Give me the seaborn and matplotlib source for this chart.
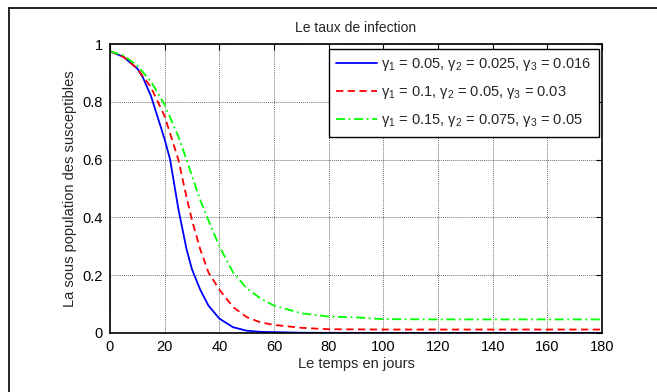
import matplotlib
matplotlib.use("Agg")
import matplotlib.pyplot as plt
import seaborn as sns
import pandas as pd
from matplotlib.lines import Line2D

sns.set_theme(style="white")
plt.rcParams['font.family'] = ['Liberation Sans', 'DejaVu Sans']
plt.rcParams['mathtext.default'] = 'regular'

# data
t_blue = [0, 5, 10, 12, 15, 20, 22, 25, 28, 30, 33, 36, 40, 45, 50, 55, 60, 70, 80, 100, 120, 140, 160, 180]
s_blue = [0.975, 0.955, 0.915, 0.885, 0.82, 0.67, 0.60, 0.43, 0.29, 0.22, 0.15, 0.095, 0.05, 0.02, 0.008,
          0.004, 0.003, 0.001, 0.0005, 0.0005, 0.0005, 0.0005, 0.0005, 0.0005]

t_red = [0, 5, 10, 15, 20, 25, 28, 30, 33, 36, 40, 45, 50, 55, 60, 70, 80, 100, 120, 140, 160, 180]
s_red = [0.975, 0.955, 0.915, 0.85, 0.75, 0.60, 0.47, 0.39, 0.29, 0.21, 0.15, 0.09, 0.055, 0.037,
         0.028, 0.018, 0.013, 0.012, 0.012, 0.012, 0.012, 0.012]

t_green = [0, 5, 10, 15, 20, 25, 28, 33, 36, 40, 45, 50, 55, 60, 70, 80, 90, 100, 120, 140, 160, 180]
s_green = [0.975, 0.96, 0.925, 0.87, 0.79, 0.68, 0.60, 0.46, 0.39, 0.30, 0.21, 0.155, 0.12, 0.095,
           0.068, 0.057, 0.054, 0.048, 0.047, 0.047, 0.047, 0.047]

labels = [r"γ$_1$ = 0.05, γ$_2$ = 0.025, γ$_3$ = 0.016",
          r"γ$_1$ = 0.1, γ$_2$ = 0.05, γ$_3$ = 0.03",
          r"γ$_1$ = 0.15, γ$_2$ = 0.075, γ$_3$ = 0.05"]
xticks = [0, 20, 40, 60, 80, 100, 120, 140, 160, 180]
yticks = [0, 0.2, 0.4, 0.6, 0.8, 1]
ytick_labels = ["0", "0.2", "0.4", "0.6", "0.8", "1"]

fig = plt.figure(figsize=(6.57, 3.92), dpi=100)
ax = fig.add_axes([110/657, 1-333/392, (602-110)/657, (333-44)/392])

series = [(t_blue, s_blue, "#0000ff", "-"),
          (t_red, s_red, "#ff0000", (0, (4, 2.5))),
          (t_green, s_green, "#00ff00", (0, (5, 2, 1, 2)))]
for (t, s, c, ls), lab in zip(series, labels):
    df = pd.DataFrame({"t": t, "s": s})
    sns.lineplot(data=df, x="t", y="s", ax=ax, color=c, linestyle=ls, linewidth=1.3, label=lab)

ax.set_xlim(0, 180)
ax.set_ylim(0, 1)
ax.set_xticks(xticks)
ax.set_xticklabels([str(x) for x in xticks])
ax.set_yticks(yticks)
ax.set_yticklabels(ytick_labels)
ax.grid(True, color="#707070", linestyle=(0, (1, 1)), linewidth=0.7)
ax.tick_params(direction="in", length=4, width=0.8, top=True, right=True, labelsize=10.5,
               colors="black", pad=5)
for sp in ax.spines.values():
    sp.set_color("black")
    sp.set_linewidth(1.2)

ax.set_xlabel("Le temps en jours", fontsize=10.5, labelpad=2)
ax.set_ylabel("La sous population des susceptibles", fontsize=10.5, labelpad=4)
ax.set_title("Le taux de infection", fontsize=10, pad=9)

leg = ax.legend(loc="upper right", bbox_to_anchor=(0.993, 0.982), fontsize=10.5, frameon=True,
                fancybox=False, edgecolor="black", handlelength=2.8, handletextpad=0.3,
                borderpad=0.5, labelspacing=0.75, borderaxespad=0)
leg.get_frame().set_linewidth(1.0)
leg.get_frame().set_alpha(1)

# outer frame (left and top lines)
fig.add_artist(Line2D([9/657, 9/657], [0, 1-8/392], transform=fig.transFigure, color="black", lw=1.2))
fig.add_artist(Line2D([9/657, 1], [1-8/392, 1-8/392], transform=fig.transFigure, color="black", lw=1.2))

fig.savefig("out.png", dpi=100)
